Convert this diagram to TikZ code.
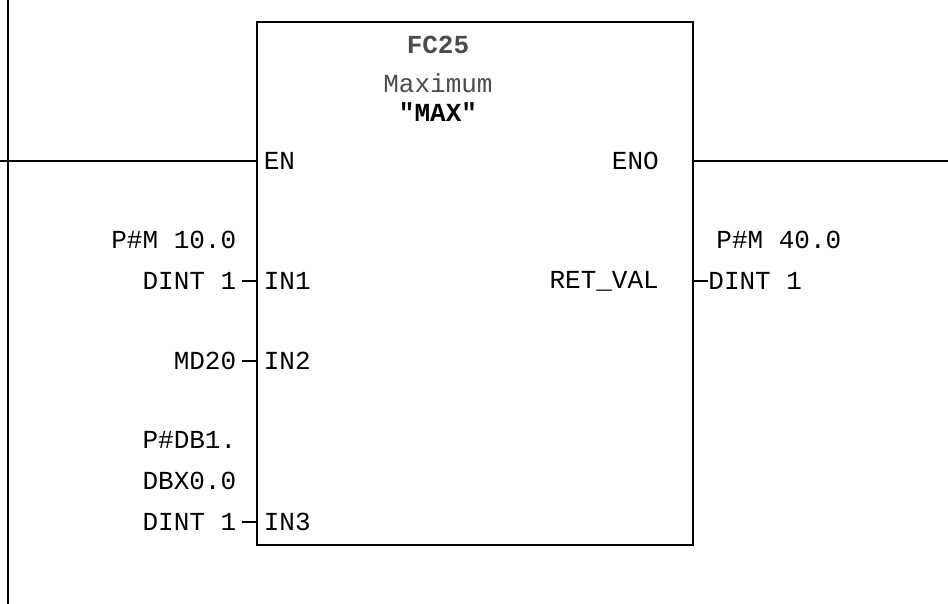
\documentclass[tikz,border=0pt]{standalone}
\usepackage{fontspec}
\setmonofont{Liberation Mono}
\usetikzlibrary{positioning}
\begin{document}
\begin{tikzpicture}[x=1pt,y=-1pt,line width=1.6pt,
    lbl/.style={font=\ttfamily\fontsize{26}{28}\selectfont,inner sep=0pt},
    pin/.style={lbl,anchor=west},
    opin/.style={lbl,anchor=east}]
    \useasboundingbox (0,0) rectangle (948,604);
    % power rail and block
    \draw (8,0) -- (8,604);
    \node[draw,minimum width=436pt,minimum height=523pt,anchor=north west,inner sep=0pt] (blk) at (256,21) {};
    \node[lbl,text=black!70,font=\ttfamily\bfseries\fontsize{26}{28}\selectfont] (fc) at (438,45) {FC25};
    \node[lbl,text=black!70] (nm) at (438,83) {Maximum};
    \node[lbl,font=\ttfamily\bfseries\fontsize{26}{28}\selectfont] (sym) at (438,112) {"MAX"};
    % enable
    \coordinate (en) at (blk.west |- 0,161);
    \coordinate (eno) at (blk.east |- 0,161);
    \node[pin] (enl) at ([xshift=7pt]en) {EN};
    \node[opin] (enol) at ([xshift=-34pt]eno) {ENO};
    \coordinate (railL) at (0,161);
    \coordinate (railR) at (948,161);
    \draw (railL) -- (en);
    \draw (eno) -- (railR);
    % inputs
    \coordinate (in1) at (blk.west |- 0,281);
    \coordinate (in2) at (blk.west |- 0,361);
    \coordinate (in3) at (blk.west |- 0,522);
    \node[pin] (in1l) at ([xshift=7pt]in1) {IN1};
    \node[pin] (in2l) at ([xshift=7pt]in2) {IN2};
    \node[pin] (in3l) at ([xshift=7pt]in3) {IN3};
    \node[opin] (a1) at ([xshift=-19pt]in1) {DINT 1};
    \node[opin] (a0) at ([yshift=41pt]a1.east) {P\#M 10.0};
    \node[opin] (b1) at ([xshift=-19pt]in2) {MD20};
    \node[opin] (c2) at ([xshift=-19pt]in3) {DINT 1};
    \node[opin] (c1) at ([yshift=41pt]c2.east) {DBX0.0};
    \node[opin] (c0) at ([yshift=41pt]c1.east) {P\#DB1.};
    \draw ([xshift=5pt]a1.east) -- (in1);
    \draw ([xshift=5pt]b1.east) -- (in2);
    \draw ([xshift=5pt]c2.east) -- (in3);
    % output
    \coordinate (rv) at (blk.east |- 0,281);
    \node[opin] (rvl) at ([xshift=-34pt]rv) {RET\_VAL};
    \node[pin] (o1) at ([xshift=14pt]rv) {DINT 1};
    \node[pin] (o0) at ([xshift=22pt,yshift=41pt]rv) {P\#M 40.0};
    \draw (rv) -- (o1);
\end{tikzpicture}
\end{document}
